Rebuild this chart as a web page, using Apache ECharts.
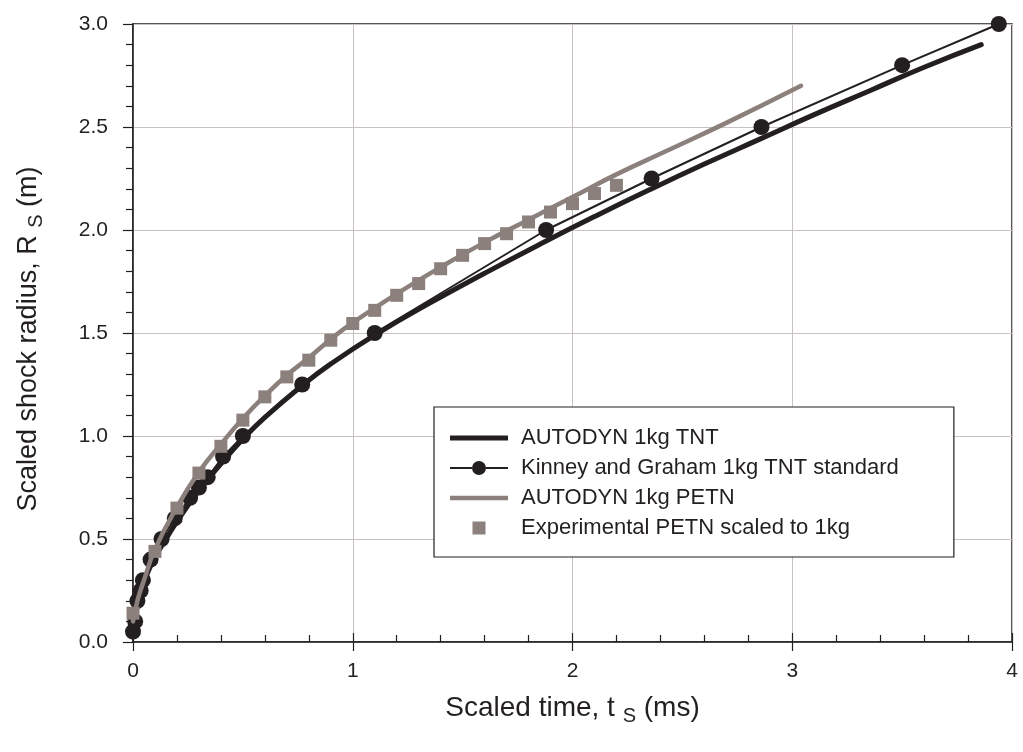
<!DOCTYPE html>
<html><head><meta charset="utf-8">
<script src="https://cdn.jsdelivr.net/npm/echarts@6/dist/echarts.min.js"></script>
<style>html,body{margin:0;padding:0;background:#fff}#c{width:1023px;height:752px}</style>
</head><body><div id="c"></div>
<script>
// AUTODYN 1kg TNT (thick black line)
const tntT = [0, 0.01, 0.03, 0.06, 0.1, 0.15, 0.2, 0.3, 0.4, 0.5, 0.6, 0.77, 0.9, 1.1, 1.35, 1.6, 1.85, 2.1, 2.35, 2.6, 2.85, 3.1, 3.35, 3.6, 3.86];
const tntR = [0.05, 0.12, 0.22, 0.32, 0.41, 0.5, 0.585, 0.735, 0.865, 0.985, 1.09, 1.245, 1.35, 1.49, 1.645, 1.79, 1.93, 2.065, 2.195, 2.32, 2.44, 2.56, 2.675, 2.79, 2.90];
// Kinney and Graham 1kg TNT standard (thin line with circles)
const kgT = [0, 0.01, 0.02, 0.035, 0.045, 0.08, 0.13, 0.19, 0.26, 0.3, 0.34, 0.41, 0.5, 0.77, 1.1, 1.88, 2.36, 2.86, 3.5, 3.94];
const kgR = [0.05, 0.1, 0.2, 0.25, 0.3, 0.4, 0.5, 0.6, 0.7, 0.75, 0.8, 0.9, 1.0, 1.25, 1.5, 2.0, 2.25, 2.5, 2.8, 3.0];
// AUTODYN 1kg PETN (grey line)
const petnT = [0, 0.02, 0.05, 0.1, 0.2, 0.3, 0.4, 0.5, 0.6, 0.7, 0.8, 0.9, 1.0, 1.2, 1.4, 1.6, 1.8, 2.0, 2.2, 2.4, 2.7, 3.04];
const petnR = [0.1, 0.2, 0.3, 0.45, 0.655, 0.825, 0.96, 1.085, 1.195, 1.295, 1.38, 1.47, 1.55, 1.69, 1.82, 1.94, 2.05, 2.16, 2.27, 2.37, 2.52, 2.70];
// Experimental PETN scaled to 1kg (grey squares)
const expT = [0, 0.1, 0.2, 0.3, 0.4, 0.5, 0.6, 0.7, 0.8, 0.9, 1.0, 1.1, 1.2, 1.3, 1.4, 1.5, 1.6, 1.7, 1.8, 1.9, 2.0, 2.1, 2.2];
const expR = [0.14, 0.44, 0.65, 0.82, 0.95, 1.077, 1.19, 1.287, 1.368, 1.465, 1.546, 1.61, 1.683, 1.74, 1.812, 1.877, 1.934, 1.982, 2.039, 2.087, 2.128, 2.177, 2.217];

const seriesNames = ['AUTODYN 1kg TNT', 'Kinney and Graham 1kg TNT standard', 'AUTODYN 1kg PETN', 'Experimental PETN scaled to 1kg'];
const xAxisTitle = 'Scaled time, t';
const yAxisTitle = 'Scaled shock radius, R';

const zip = (a, b) => a.map((v, i) => [v, b[i]]);
const BLACK = '#231f20', GREY = '#8c807d', GRID = '#c9c1be';
const FONT = 'Liberation Sans, Arial, sans-serif';

// legend icon shapes (58 x 16 box; tiny corner dots fix the bounding box)
const CORNERS = 'M0,0h0.01v0.01h-0.01z M57.99,15.99h0.01v0.01h-0.01z ';
const ICON_THICK = 'path://' + CORNERS + 'M0,5.5h58v5h-58z';
const ICON_KG = 'path://' + CORNERS + 'M0,7h22v2h-22z M36,7h22v2h-22z M22,8a7,7 0 1,0 14,0a7,7 0 1,0 -14,0z';
const ICON_GREY = 'path://' + CORNERS + 'M0,5.75h58v4.5h-58z';
const ICON_SQ = 'path://' + CORNERS + 'M22.5,1.5h13v13h-13z';

const chart = echarts.init(document.getElementById('c'), null, {renderer: 'canvas'});
const baseX = {type: 'value', min: 0, max: 4, interval: 1};
const baseY = {type: 'value', min: 0, max: 3, interval: 0.5};
const subRich = {sub: {fontSize: 20, fontFamily: FONT, color: BLACK, padding: [15, 0, 0, 0]}};
chart.setOption({
  animation: false,
  textStyle: {fontFamily: FONT, color: BLACK},
  grid: {left: 133, right: 11, top: 24, bottom: 110, show: true, borderColor: BLACK, borderWidth: 1.5, backgroundColor: 'transparent'},
  xAxis: [
    Object.assign({}, baseX, {
      position: 'bottom',
      name: xAxisTitle + ' {sub|S} (ms)', nameLocation: 'middle', nameGap: 49,
      nameTextStyle: {fontSize: 28, color: BLACK, fontFamily: FONT, rich: subRich},
      axisLine: {show: true, onZero: false, lineStyle: {color: BLACK, width: 1.5}},
      axisTick: {show: true, inside: false, length: 9, lineStyle: {color: BLACK, width: 1.2}},
      axisLabel: {fontSize: 21, color: BLACK, margin: 19, fontFamily: FONT},
      splitLine: {show: true, lineStyle: {color: GRID, width: 1}}
    }),
    Object.assign({}, baseX, {
      position: 'bottom',
      axisLine: {show: false, onZero: false},
      axisTick: {show: true, inside: true, length: 9, lineStyle: {color: BLACK, width: 1.2}},
      minorTick: {show: true, splitNumber: 5, length: 7, lineStyle: {color: BLACK, width: 1.2}},
      axisLabel: {show: false},
      splitLine: {show: false}
    })
  ],
  yAxis: [
    Object.assign({}, baseY, {
      position: 'left',
      name: yAxisTitle + ' {sub|S} (m)', nameLocation: 'middle', nameGap: 87, nameRotate: 90,
      nameTextStyle: {fontSize: 27, color: BLACK, fontFamily: FONT, rich: subRich, padding: [0, 12, 0, 0]},
      axisLine: {show: true, onZero: false, lineStyle: {color: BLACK, width: 1.5}},
      axisTick: {show: true, inside: false, length: 10, lineStyle: {color: BLACK, width: 1.2}},
      axisLabel: {fontSize: 21, color: BLACK, margin: 25, fontFamily: FONT, formatter: v => v.toFixed(1)},
      splitLine: {show: true, lineStyle: {color: GRID, width: 1}}
    }),
    Object.assign({}, baseY, {
      position: 'left',
      axisLine: {show: false, onZero: false},
      axisTick: {show: false},
      minorTick: {show: true, splitNumber: 5, length: 7, lineStyle: {color: BLACK, width: 1.2}},
      axisLabel: {show: false},
      splitLine: {show: false}
    })
  ],
  legend: {
    orient: 'vertical', left: 434, top: 407,
    padding: [20, 55, 18, 16], itemGap: 8, itemWidth: 58, itemHeight: 16,
    backgroundColor: '#fff', borderColor: BLACK, borderWidth: 1.2, borderRadius: 0,
    itemStyle: {borderWidth: 0, opacity: 1},
    textStyle: {fontSize: 22, color: BLACK, fontFamily: FONT, padding: [0, 0, 0, 8]},
    data: [
      {name: seriesNames[0], icon: ICON_THICK, itemStyle: {color: BLACK, opacity: 1}},
      {name: seriesNames[1], icon: ICON_KG, itemStyle: {color: BLACK, opacity: 1}},
      {name: seriesNames[2], icon: ICON_GREY, itemStyle: {color: GREY, opacity: 1}},
      {name: seriesNames[3], icon: ICON_SQ, itemStyle: {color: GREY, opacity: 1}}
    ]
  },
  series: [
    {name: seriesNames[0], type: 'line', data: zip(tntT, tntR), smooth: 0.5, symbol: 'none', clip: false,
      lineStyle: {color: BLACK, width: 5, cap: 'round'}, itemStyle: {color: BLACK}, z: 2},
    {name: seriesNames[1], type: 'line', data: zip(kgT, kgR), symbol: 'circle', symbolSize: 16, clip: false,
      lineStyle: {color: BLACK, width: 2}, itemStyle: {color: BLACK}, z: 3},
    {name: seriesNames[2], type: 'line', data: zip(petnT, petnR), smooth: 0.5, symbol: 'none', clip: false,
      lineStyle: {color: GREY, width: 4.5, cap: 'round'}, itemStyle: {color: GREY}, z: 4},
    {name: seriesNames[3], type: 'scatter', data: zip(expT, expR), symbol: 'rect', symbolSize: 13, clip: false,
      itemStyle: {color: GREY, opacity: 1}, z: 5}
  ]
});
</script>
</body></html>
